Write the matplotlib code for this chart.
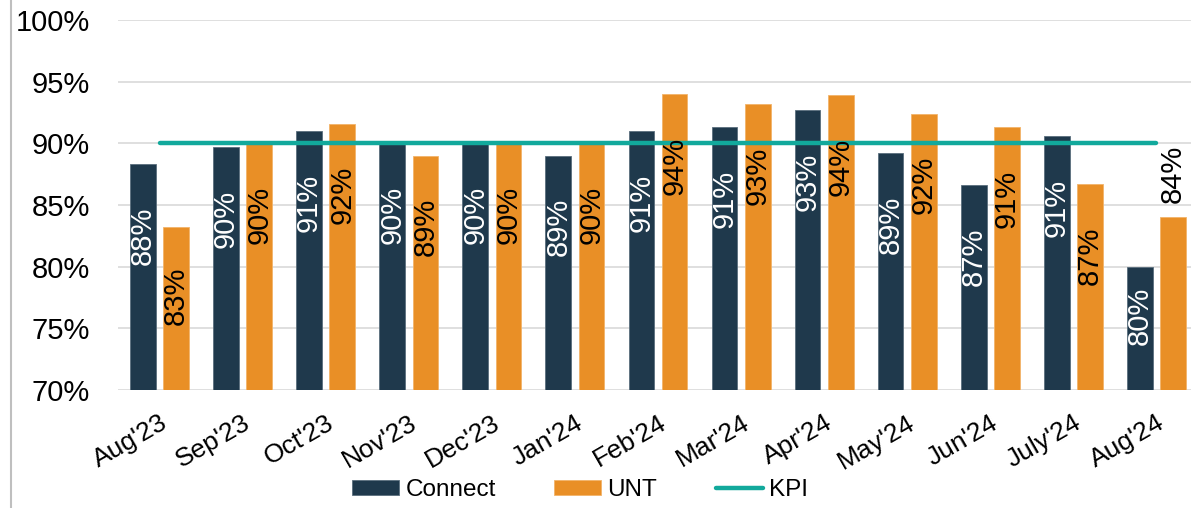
import matplotlib
matplotlib.use("Agg")
import matplotlib.pyplot as plt
import numpy as np
from matplotlib.lines import Line2D

months = ["Aug'23", "Sep'23", "Oct'23", "Nov'23", "Dec'23", "Jan'24", "Feb'24",
          "Mar'24", "Apr'24", "May'24", "Jun'24", "July'24", "Aug'24"]
connect = [88.3, 89.7, 91.0, 90.0, 90.0, 89.0, 91.0, 91.3, 92.7, 89.2, 86.6, 90.6, 80.0]
unt = [83.2, 90.0, 91.6, 89.0, 90.0, 90.0, 94.0, 93.2, 93.9, 92.4, 91.3, 86.7, 84.0]
kpi = [90.0] * len(months)

C_CONNECT = "#1F394C"
C_UNT = "#E98F26"
C_KPI = "#12A99C"

plt.rcParams['font.family'] = ['Liberation Sans', 'DejaVu Sans']

W, H = 1191, 508
fig = plt.figure(figsize=(W / 100, H / 100), dpi=100)
ax = fig.add_axes([118 / W, 118 / H, (1198 - 118) / W, 370 / H])

x = np.arange(len(months))
bw = 0.31
off = 0.2
b1 = ax.bar(x - off, connect, bw, color=C_CONNECT, edgecolor="#5A6E7D",
            linewidth=0.6, label="Connect", zorder=2)
b2 = ax.bar(x + off, unt, bw, color=C_UNT, edgecolor="#F2B46A",
            linewidth=0.6, label="UNT", zorder=2)
ax.plot(x, kpi, color=C_KPI, lw=3.2, solid_capstyle="round", label="KPI", zorder=3)

ax.set_ylim(70, 100)
ax.set_xlim(-0.5, len(months) - 0.5)
ax.set_yticks(np.arange(70, 101, 5))
ax.set_yticklabels([f"{v}%" for v in range(70, 101, 5)], fontsize=21)
ax.tick_params(axis="y", length=0, pad=20)
ax.set_xticks(x)
ax.set_xticklabels(months, rotation=30, ha="right", rotation_mode="anchor", fontsize=19)
ax.tick_params(axis="x", length=0, pad=15)
ax.grid(axis="y", color="#D9D9D9", lw=1.2, zorder=0)
ax.set_axisbelow(True)
for s in ax.spines.values():
    s.set_visible(False)

def lab_pos(v):
    return max(v - 5.8, (v + 70) / 2 + 1)

for i, v in enumerate(connect):
    ax.text(x[i] - off, lab_pos(v), f"{round(v)}%", rotation=90, ha="center",
            va="center", color="white", fontsize=21, zorder=4)
for i, v in enumerate(unt):
    if i == len(unt) - 1:
        ax.text(x[i] + off, v + 1.2, f"{round(v)}%", rotation=90, ha="center",
                va="bottom", color="black", fontsize=21, zorder=4)
    else:
        ax.text(x[i] + off, lab_pos(v), f"{round(v)}%", rotation=90, ha="center",
                va="center", color="black", fontsize=21, zorder=4)

handles = [b1, b2, Line2D([0], [0], color=C_KPI, lw=3.2, solid_capstyle="round")]
fig.legend(handles, ["Connect", "UNT", "KPI"], loc="center", ncol=3,
           bbox_to_anchor=(580 / W, 1 - 490 / H), frameon=False, fontsize=17.5,
           handlelength=1.95, handleheight=0.6, handletextpad=0.25, columnspacing=2.4)

fig.add_artist(Line2D([11 / W, 11 / W], [0, 1], color="#BFBFBF", lw=1.5,
                      transform=fig.transFigure))

fig.savefig("out.png", dpi=100)
